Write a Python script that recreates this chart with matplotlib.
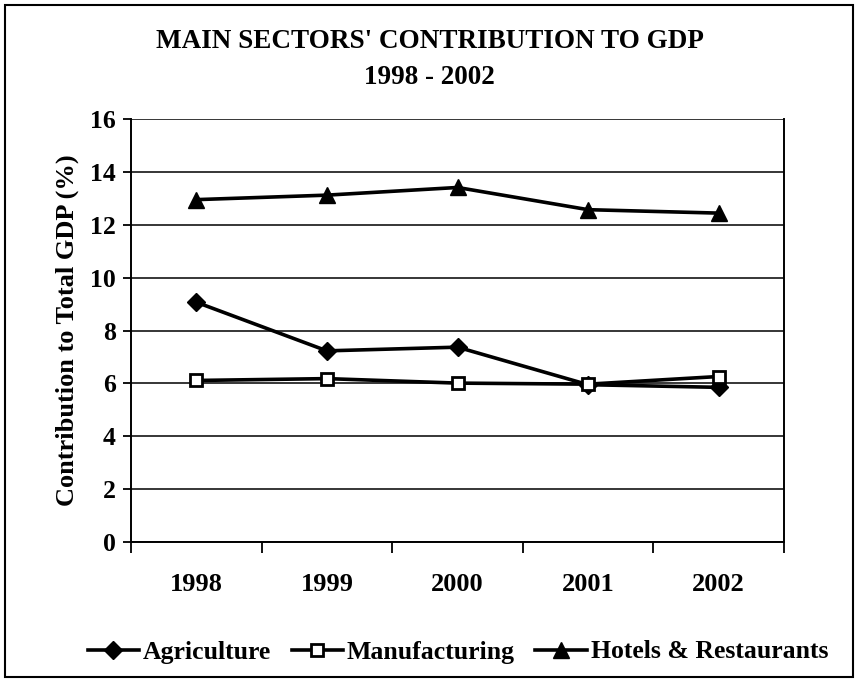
import matplotlib
matplotlib.use("Agg")
import matplotlib.pyplot as plt
from matplotlib.patches import Rectangle

years = ["1998", "1999", "2000", "2001", "2002"]
agriculture = [9.07, 7.23, 7.37, 5.95, 5.85]
manufacturing = [6.11, 6.18, 6.01, 5.97, 6.26]
hotels = [12.95, 13.12, 13.41, 12.57, 12.44]
yticks = [0, 2, 4, 6, 8, 10, 12, 14, 16]

plt.rcParams['font.family'] = ['Liberation Serif', 'DejaVu Serif']
plt.rcParams['font.weight'] = 'bold'

fig = plt.figure(figsize=(8.59, 6.82), dpi=100)
W, H = 859, 682
ax = fig.add_axes([131 / W, 1 - 542 / H, (784 - 131) / W, (542 - 119) / H])

x = list(range(len(years)))
ax.plot(x, agriculture, color='black', lw=2.6, marker='D', ms=9, mfc='black', mec='black', label='Agriculture')
ax.plot(x, manufacturing, color='black', lw=2.6, marker='s', ms=8, mfc='white', mec='black', mew=2, label='Manufacturing')
ax.plot(x, hotels, color='black', lw=2.6, marker='^', ms=12, mfc='black', mec='black', label='Hotels & Restaurants')

ax.set_xlim(-0.5, len(years) - 0.5)
ax.set_ylim(0, 16)
ax.set_yticks(yticks)
ax.set_yticklabels([str(v) for v in yticks], fontsize=18.5, fontweight='bold')
ax.yaxis.grid(True, color='black', lw=1.1)
ax.set_axisbelow(True)

ax.set_xticks([i - 0.5 for i in range(len(years) + 1)])
ax.set_xticklabels([])
ax.set_xticks(x, minor=True)
ax.set_xticklabels(years, minor=True, fontsize=19, fontweight='bold')
ax.tick_params(axis='x', which='minor', length=0, pad=22)
ax.tick_params(axis='x', which='major', length=8, width=1.3, direction='out')
ax.tick_params(axis='y', length=6, width=1.3, direction='out', pad=5)

for s in ['left', 'bottom', 'right']:
    ax.spines[s].set_linewidth(1.4)
ax.spines['top'].set_visible(False)

ax.set_ylabel("Contribution to Total GDP (%)", fontsize=19, fontweight='bold', labelpad=8)

fig.text(0.5, 1 - 42 / H, "MAIN SECTORS' CONTRIBUTION TO GDP", ha='center', va='center', fontsize=19.5, fontweight='bold')
fig.text(0.5, 1 - 78 / H, "1998 - 2002", ha='center', va='center', fontsize=19.5, fontweight='bold')

leg = fig.legend(loc='center', bbox_to_anchor=(0.533, 1 - 652 / H), ncol=3, frameon=False,
                 handlelength=2.0, columnspacing=0.8, handletextpad=0.15,
                 prop={'weight': 'bold', 'size': 18.5})

fig.add_artist(Rectangle((5 / W, 5 / H), 848 / W, 672 / H, transform=fig.transFigure,
                         fill=False, edgecolor='black', lw=1.5))

fig.savefig("out.png", dpi=100)
